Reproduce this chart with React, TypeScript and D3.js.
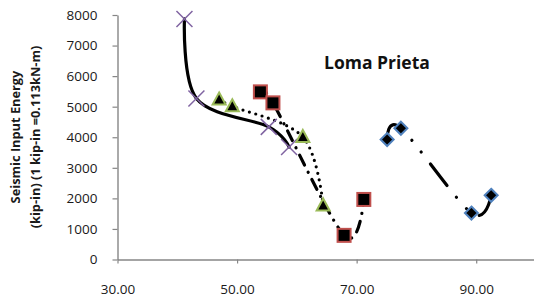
import { useEffect, useRef } from "react";
import * as d3 from "d3";

// values
const xTicks = [30, 50, 70, 90];
const yTicks = [0, 1000, 2000, 3000, 4000, 5000, 6000, 7000, 8000];

const crossX = [41.2, 43.2, 55.3, 58.7];
const crossY = [7870, 5270, 4340, 3680];

const triX = [47.0, 49.2, 61.0, 64.4];
const triY = [5235, 5015, 4010, 1770];

const squareX = [53.9, 56.0, 67.9, 71.2];
const squareY = [5485, 5125, 790, 1965];

const diamondX = [75.1, 77.4, 89.2, 92.5];
const diamondY = [3925, 4295, 1520, 2100];

const W = 534;
const H = 305;
const FONT = "'Open Sans', 'Liberation Sans', sans-serif";

function App() {
    const ref = useRef(null);

    useEffect(() => {
        const svg = d3.select(ref.current);
        svg.selectAll("*").remove();

        const x = d3.scaleLinear().domain([30, 100]).range([117.5, 536]);
        const y = d3.scaleLinear().domain([0, 8000]).range([259.5, 15]);

        // y axis
        const yAxis = svg.append("g")
            .attr("transform", "translate(117.5,0)")
            .call(d3.axisLeft(y).tickValues(yTicks).tickSize(5).tickSizeOuter(0).tickPadding(15)
                .tickFormat(d3.format("d")));
        // x axis
        const xAxis = svg.append("g")
            .attr("transform", "translate(0,259.5)")
            .call(d3.axisBottom(x).tickValues(xTicks).tickSize(4).tickSizeOuter(0).tickPadding(21)
                .tickFormat(d3.format(".2f")));

        [yAxis, xAxis].forEach(g => {
            g.select(".domain").attr("stroke", "#868686").attr("stroke-width", 1.4);
            g.selectAll(".tick line").attr("stroke", "#868686").attr("stroke-width", 1.2);
            g.selectAll(".tick text")
                .attr("fill", "#1a1a1a")
                .attr("font-family", FONT)
                .attr("font-size", "13.5px");
        });

        // y axis title, two lines
        const title = svg.append("g")
            .attr("font-family", FONT)
            .attr("font-weight", "bold")
            .attr("font-size", "12.8px")
            .attr("fill", "#1a1a1a")
            .attr("text-anchor", "middle");
        title.append("text")
            .attr("transform", "translate(20,137) rotate(-90)")
            .text("Seismic Input Energy");
        title.append("text")
            .attr("transform", "translate(39.5,137) rotate(-90)")
            .text("(kip-in) (1 kip-in =0.113kN-m)");

        svg.append("text")
            .attr("x", 324)
            .attr("y", 69)
            .attr("font-family", FONT)
            .attr("font-weight", "bold")
            .attr("font-size", "17.5px")
            .attr("fill", "#111")
            .text("Loma Prieta");

        const line = d3.line()
            .x(d => x(d[0]))
            .y(d => y(d[1]))
            .curve(d3.curveCardinal.tension(0));

        const series = [
            { xs: crossX, ys: crossY, dash: null },
            { xs: triX, ys: triY, dash: "0 6.6" },
            { xs: squareX, ys: squareY, dash: "11 8 0.1 8" },
            { xs: diamondX, ys: diamondY, dash: "27 15 0.1 15 0.1 15" },
        ];

        // lines first
        series.forEach(s => {
            const pts = s.xs.map((v, i) => [v, s.ys[i]]);
            svg.append("path")
                .attr("d", line(pts))
                .attr("fill", "none")
                .attr("stroke", "#000")
                .attr("stroke-width", 3.2)
                .attr("stroke-linecap", "round")
                .attr("stroke-dasharray", s.dash);
        });

        // markers
        const crosses = svg.append("g");
        crossX.forEach((v, i) => {
            const cx = x(v), cy = y(crossY[i]);
            crosses.append("path")
                .attr("d", `M${cx - 8},${cy - 8}L${cx + 8},${cy + 8}M${cx - 8},${cy + 8}L${cx + 8},${cy - 8}`)
                .attr("stroke", "#8064A2")
                .attr("stroke-width", 1.5)
                .attr("fill", "none");
        });

        const tris = svg.append("g");
        triX.forEach((v, i) => {
            const cx = x(v), cy = y(triY[i]);
            tris.append("path")
                .attr("d", `M${cx},${cy - 7}L${cx + 6.5},${cy + 5}L${cx - 6.5},${cy + 5}Z`)
                .attr("fill", "#000")
                .attr("stroke", "#9BBB59")
                .attr("stroke-width", 2)
                .attr("stroke-linejoin", "miter");
        });

        const squares = svg.append("g");
        squareX.forEach((v, i) => {
            squares.append("rect")
                .attr("x", x(v) - 6.5)
                .attr("y", y(squareY[i]) - 6.5)
                .attr("width", 13)
                .attr("height", 13)
                .attr("fill", "#000")
                .attr("stroke", "#C0504D")
                .attr("stroke-width", 2);
        });

        const diamonds = svg.append("g");
        diamondX.forEach((v, i) => {
            const cx = x(v), cy = y(diamondY[i]);
            diamonds.append("path")
                .attr("d", `M${cx},${cy - 6.5}L${cx + 6.5},${cy}L${cx},${cy + 6.5}L${cx - 6.5},${cy}Z`)
                .attr("fill", "#000")
                .attr("stroke", "#4F81BD")
                .attr("stroke-width", 2);
        });
    }, []);

    return (
        <svg ref={ref} width={W} height={H}
            style={{ position: "absolute", left: 0, top: 0, background: "#fff" }} />
    );
}

export default App;
